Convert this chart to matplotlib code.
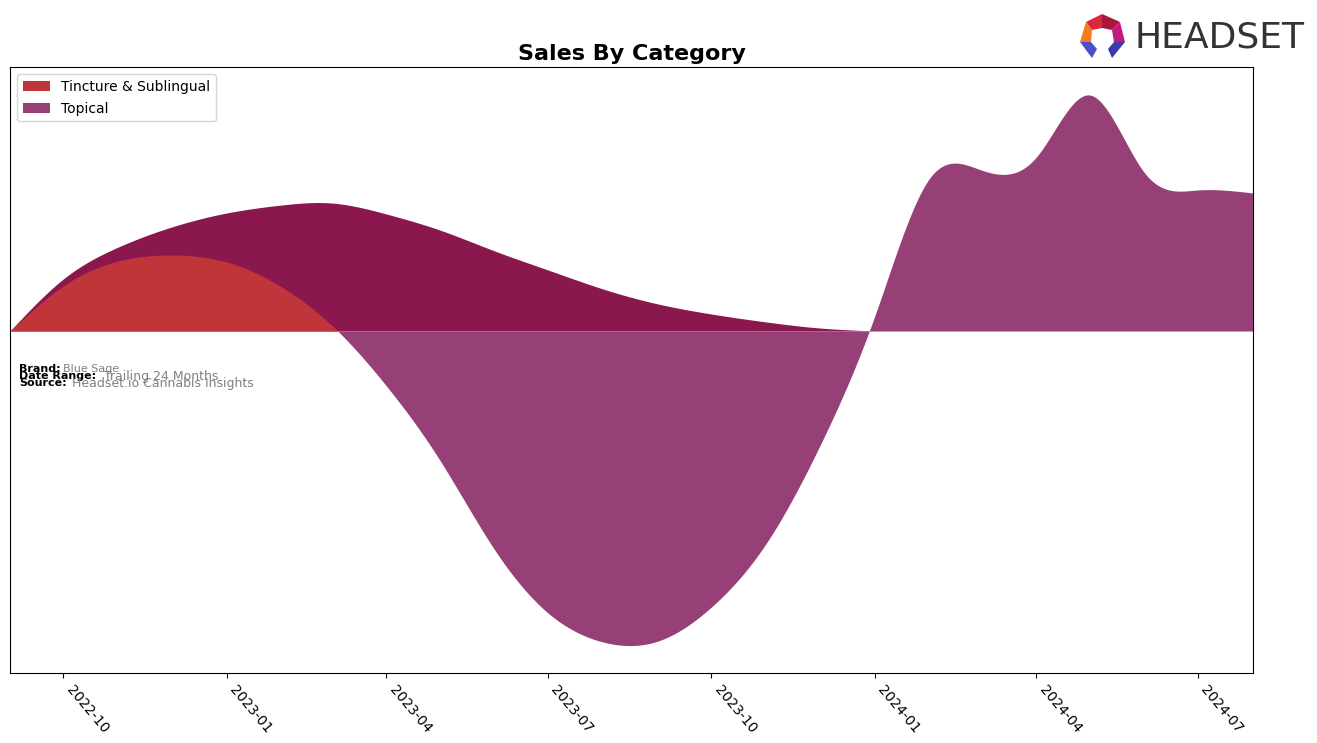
import numpy as np
import matplotlib
matplotlib.use("Agg")
import matplotlib.pyplot as plt
import matplotlib.dates as mdates
from matplotlib.patches import Polygon, Patch
from matplotlib import font_manager
import datetime as dt

# ---------------- data ----------------
months = ["2022-09-01", "2022-10-01", "2022-11-01", "2022-12-01", "2023-01-01",
          "2023-02-01", "2023-03-01", "2023-04-01", "2023-05-01", "2023-06-01",
          "2023-07-01", "2023-08-01", "2023-09-01", "2023-10-01", "2023-11-01",
          "2023-12-01", "2024-01-01", "2024-02-01", "2024-03-01", "2024-04-01",
          "2024-05-01", "2024-06-01", "2024-07-01", "2024-08-01"]
# stream edge: top of Tincture & Sublingual (early), lower edge / top of Topical later
stream_edge = [0, 45, 70, 76, 69, 44, 6, -55, -129, -219, -282, -311, -310,
               -276, -212, -115, 15, 153, 161, 174, 236, 158, 141, 138]
# upper edge of the Topical stream during the first period
topical_upper = [0, 52, 84, 104, 118, 126, 128, 117, 101, 80, 61, 42, 27, 17,
                 9, 3, 0, 0, 0, 0, 0, 0, 0, 0]
categories = ["Tincture & Sublingual", "Topical"]
colors = ["#c0353a", "#964077"]
overlap_color = "#8a184f"
tick_fmt = "%Y-%m"


def natural_spline(x, y, xs):
    x = np.asarray(x, float)
    y = np.asarray(y, float)
    n = len(x)
    h = np.diff(x)
    A = np.zeros((n, n))
    r = np.zeros(n)
    A[0, 0] = 1
    A[-1, -1] = 1
    for i in range(1, n - 1):
        A[i, i - 1] = h[i - 1]
        A[i, i] = 2 * (h[i - 1] + h[i])
        A[i, i + 1] = h[i]
        r[i] = 3 * ((y[i + 1] - y[i]) / h[i] - (y[i] - y[i - 1]) / h[i - 1])
    c = np.linalg.solve(A, r)
    b = (y[1:] - y[:-1]) / h - h * (2 * c[:-1] + c[1:]) / 3
    d = (c[1:] - c[:-1]) / (3 * h)
    idx = np.clip(np.searchsorted(x, xs) - 1, 0, n - 2)
    dx = xs - x[idx]
    return y[idx] + b[idx] * dx + c[idx] * dx ** 2 + d[idx] * dx ** 3


dates = [dt.datetime.strptime(m, "%Y-%m-%d") for m in months]
xn = mdates.date2num(dates)
xs = np.linspace(xn[0], xn[-1], 3000)

edge = natural_spline(xn, stream_edge, xs)
n_up = 17
upper = natural_spline(xn[:n_up], topical_upper[:n_up], xs)
upper = np.where(xs <= xn[n_up - 1], np.maximum(upper, 0), 0)

# ---------------- figure ----------------
fig = plt.figure(figsize=(13.17, 7.43), dpi=100)
W, H = 1317, 743
ax = fig.add_axes([10 / W, 1 - 673 / H, (1253 - 10) / W, (673 - 67) / H])

split_red = mdates.date2num(dt.datetime(2023, 6, 1))
split_purple = mdates.date2num(dt.datetime(2023, 12, 15))

ax.fill_between(xs, 0, upper, color=overlap_color, linewidth=0)
ax.fill_between(xs, 0, edge, where=(edge > 0) & (xs < split_red),
                interpolate=True, color=colors[0], linewidth=0)
ax.fill_between(xs, 0, edge, where=(edge < 0) | (xs > split_purple),
                interpolate=True, color=colors[1], linewidth=0)

ax.set_xlim(xn[0], xn[-1])
ax.set_ylim(-342, 264)
ax.set_yticks([])
ax.xaxis.set_major_locator(mdates.MonthLocator(bymonth=[1, 4, 7, 10]))
ax.xaxis.set_major_formatter(mdates.DateFormatter(tick_fmt))
for lab in ax.get_xticklabels():
    lab.set_rotation(-50)
    lab.set_ha("left")
    lab.set_va("top")
    lab.set_fontsize(10)

ax.set_title("Sales By Category", fontsize=16, fontweight="bold", pad=5)

handles = [Patch(facecolor=c, label=l) for c, l in zip(colors, categories)]
ax.legend(handles=handles, loc="upper left", fontsize=10, labelspacing=0.6)

# ---------------- info text ----------------
def fx(px):
    return px / W


def fy(py):
    return 1 - py / H


fig.text(fx(19), fy(369), "Brand:", fontsize=8, fontweight="bold", va="center")
fig.text(fx(63), fy(369), "Blue Sage", fontsize=8, color="gray", va="center")
fig.text(fx(19), fy(376), "Date Range:", fontsize=8, fontweight="bold", va="center")
fig.text(fx(104), fy(376), "Trailing 24 Months", fontsize=9, color="gray", va="center")
fig.text(fx(19), fy(383), "Source:", fontsize=8, fontweight="bold", va="center")
fig.text(fx(72), fy(383), "Headset.io Cannabis Insights", fontsize=9, color="gray", va="center")

# ---------------- logo ----------------
names = {f.name for f in font_manager.fontManager.ttflist}
if "Liberation Sans Narrow" in names:
    fig.text(fx(1134), fy(37), "HEADSET", fontsize=31, color="#333333",
             family="Liberation Sans Narrow", va="center")
else:
    fig.text(fx(1134), fy(37), "HEADSET", fontsize=26, color="#333333",
             family="DejaVu Sans", va="center")

icon = [
    ([(1086, 22), (1102, 14), (1102, 28), (1092, 30)], "#d8283a"),
    ([(1102, 14), (1120, 22), (1112, 30), (1102, 28)], "#a8173a"),
    ([(1086, 22), (1092, 30), (1091, 42), (1080, 42)], "#f47b20"),
    ([(1120, 22), (1125, 42), (1114, 42), (1112, 30)], "#c0197e"),
    ([(1080, 42), (1091, 42), (1097, 49), (1092, 58)], "#4b4ec8"),
    ([(1125, 42), (1114, 42), (1108, 49), (1112, 58)], "#3a3aa8"),
]
for pts, col in icon:
    fig.patches.append(Polygon([(fx(a), fy(b)) for a, b in pts], closed=True,
                               transform=fig.transFigure, facecolor=col,
                               edgecolor="none"))

fig.savefig("out.png", dpi=100)
